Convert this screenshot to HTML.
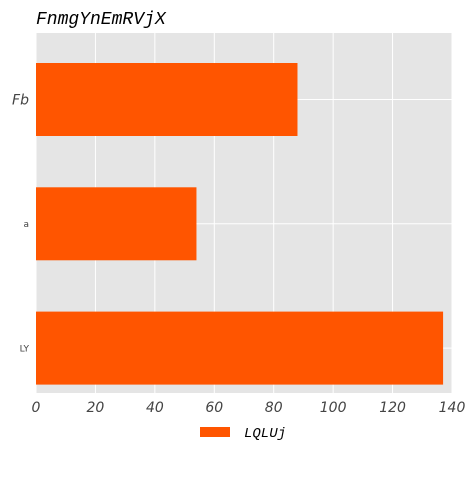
<!DOCTYPE html>
<html><head><meta charset="utf-8"><style>
body{margin:0;background:#fff;width:476px;height:476px;overflow:hidden}
</style></head><body>
<svg id="chart" width="476" height="476" xmlns="http://www.w3.org/2000/svg">
<text x="36" y="24" font-family="Liberation Mono, monospace" font-style="italic" font-size="18" fill="#000">FnmgYnEmRVjX</text>
<rect x="36" y="33" width="416" height="360" fill="#e5e5e5"/>
<g id="grid"></g><g id="bars"></g><g id="ticks"></g>
<rect x="200" y="427" width="30" height="10" fill="#ff5500"/>
<text x="244" y="437" font-family="Liberation Mono, monospace" font-style="italic" font-size="14">LQLUj</text>
</svg>
<script>
const categories=["Fb","a","LY"];
const values=[88,54,137];
const xTicks=[0,20,40,60,80,100,120,140];
const catFont=[14,9,9];
const catStyle=["italic","normal","normal"];
const NS="http://www.w3.org/2000/svg";
const x0=36,x1=452,xMax=140;
const xs=v=>x0+(x1-x0)*v/xMax;
const yc=i=>99.5+i*124.3;
const bh=73;
const g=document.getElementById('grid'),b=document.getElementById('bars'),t=document.getElementById('ticks');
function mk(tag,attrs,parent){const e=document.createElementNS(NS,tag);for(const k in attrs)e.setAttribute(k,attrs[k]);parent.appendChild(e);return e;}
xTicks.forEach(v=>{
 const l=mk('line',{x1:xs(v),x2:xs(v),y1:33,y2:393,stroke:'#fff','stroke-width':1},g);
 
 
 const tx=mk('text',{x:xs(v),y:412,'text-anchor':'middle','font-family':'DejaVu Sans, sans-serif','font-style':'italic','font-size':14,fill:'#444'},t);
 tx.textContent=v;
 
 
});
categories.forEach((c,i)=>{
 const l=mk('line',{x1:36,x2:452,y1:yc(i),y2:yc(i),stroke:'#fff','stroke-width':1},g);
 
 
 const r=mk('rect',{x:x0,y:yc(i)-bh/2,width:xs(values[i])-x0,height:bh,fill:'#ff5500'},b);
 
 
 const tx=mk('text',{x:29,y:yc(i)+catFont[i]*0.35,'text-anchor':'end','font-family':'DejaVu Sans, sans-serif','font-style':catStyle[i],'font-size':catFont[i],fill:'#444'},t);
 tx.textContent=c;
 
 
});
</script>
</body></html>
